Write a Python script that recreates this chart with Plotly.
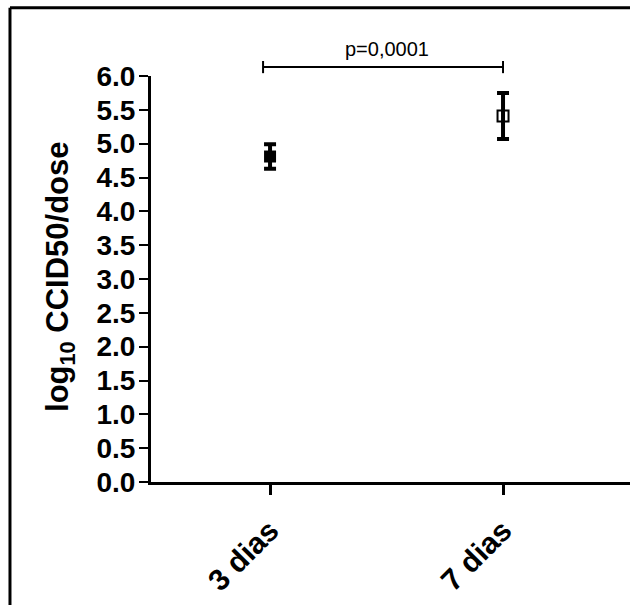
import plotly.graph_objects as go

categories = ["3 dias", "7 dias"]
means = [4.81, 5.41]
errors = [0.18, 0.34]
p_label = "p=0,0001"
y_ticks = [0, 0.5, 1.0, 1.5, 2.0, 2.5, 3.0, 3.5, 4.0, 4.5, 5.0, 5.5, 6.0]

FONT = "Arial, 'Liberation Sans', sans-serif"

fig = go.Figure()
styles = [
    dict(symbol="square", color="black", line=dict(color="black", width=0)),
    dict(symbol="square-open", color="black", line=dict(color="black", width=2)),
]
for i, cat in enumerate(categories):
    fig.add_trace(go.Scatter(
        x=[cat], y=[means[i]], mode="markers",
        marker=dict(size=12 if i == 0 else 11, **styles[i]),
        error_y=dict(type="data", array=[errors[i]], visible=True,
                     color="black", thickness=4, width=6),
        showlegend=False, cliponaxis=False,
    ))

fig.update_layout(
    width=630, height=605,
    margin=dict(l=151, r=0, t=76, b=123),
    paper_bgcolor="white", plot_bgcolor="white",
    font=dict(family=FONT, color="black"),
    xaxis=dict(
        type="category", range=[-0.511, 1.545],
        showline=True, linecolor="black", linewidth=3,
        ticks="outside", ticklen=10, tickwidth=3, tickcolor="black",
        tickangle=-45, showgrid=False, zeroline=False, ticklabelstandoff=6,
        tickfont=dict(size=30, family=FONT, color="black", weight="bold"),
    ),
    yaxis=dict(
        range=[0, 6], tickvals=y_ticks, tickformat=".1f",
        showline=True, linecolor="black", linewidth=3,
        ticks="outside", ticklen=9, tickwidth=2, tickcolor="black",
        showgrid=False, zeroline=False, ticklabelstandoff=-2,
        tickfont=dict(size=28, family=FONT, color="black", weight="bold"),
    ),
)

# y-axis title
fig.add_annotation(
    text="<b>log<sub>10</sub> CCID50/dose</b>", textangle=-90,
    xref="paper", yref="paper", x=0, y=0.505, xshift=-91,
    xanchor="center", yanchor="middle", showarrow=False,
    font=dict(size=31, family=FONT, color="black"),
)

# significance bracket
bx0, bx1 = -0.03, 1.0
fig.add_shape(type="line", xref="x", yref="paper", x0=bx0, x1=bx1, y0=1.022, y1=1.022,
              line=dict(color="black", width=2))
for bx in (bx0, bx1):
    fig.add_shape(type="line", xref="x", yref="paper", x0=bx, x1=bx, y0=1.007, y1=1.037,
                  line=dict(color="black", width=2))
fig.add_annotation(
    text=p_label, xref="x", yref="paper", x=0.5, y=1.034,
    xanchor="center", yanchor="bottom", showarrow=False,
    font=dict(size=20, family=FONT, color="black"),
)

# outer frame (top and left edges visible)
fig.add_shape(type="line", xref="paper", yref="paper",
              x0=-0.2944, x1=1.05, y0=1.168, y1=1.168,
              line=dict(color="black", width=3))
fig.add_shape(type="line", xref="paper", yref="paper",
              x0=-0.2944, x1=-0.2944, y0=-0.35, y1=1.168,
              line=dict(color="black", width=3))

fig.write_html("out.html")
